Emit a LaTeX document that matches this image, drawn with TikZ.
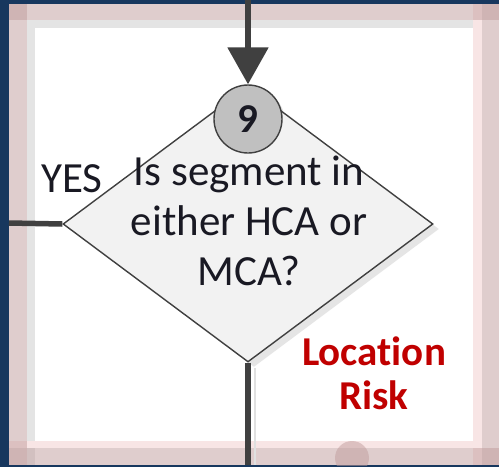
\documentclass[tikz,border=0pt]{standalone}
\usepackage{fontspec}
\setmainfont{Carlito}[Ligatures=NoCommon]
\usetikzlibrary{shapes.geometric,arrows.meta}
\definecolor{navy}{RGB}{23,55,94}
\definecolor{bandpink}{RGB}{193,157,157}
\definecolor{lightpink}{RGB}{248,229,229}
\definecolor{bandgray}{RGB}{228,228,228}
\definecolor{linegray}{RGB}{64,64,64}
\definecolor{riskred}{RGB}{192,0,0}
\definecolor{diafill}{RGB}{242,242,242}
\definecolor{circfill}{RGB}{192,192,192}
\definecolor{inktext}{RGB}{25,25,35}

\begin{document}
\begin{tikzpicture}[x=1pt,y=-1pt,
  band/.style={fill=bandpink,fill opacity=0.5},
  decision/.style={diamond,draw=linegray,line width=1.4pt,fill=diafill,
    minimum width=370pt,minimum height=276pt,inner sep=0pt},
  stepnum/.style={circle,draw=linegray,line width=1.4pt,fill=circfill,
    minimum size=68pt,inner sep=0pt,text=inktext,
    font=\fontsize{41}{48}\selectfont\bfseries},
  flow/.style={draw=linegray,line width=5.5pt},
  qtext/.style={align=center,text=inktext,inner sep=0pt,
    font=\fontsize{43}{50}\selectfont},
  risktext/.style={align=center,text=riskred,inner sep=0pt,
    font=\fontsize{41}{44}\selectfont\bfseries}
]
\useasboundingbox (0,0) rectangle (499,467);

% frame and page background
\fill[navy] (0,0) rectangle (499,467);
\fill[white] (9,4) rectangle (499,465);

% translucent margin bands
\fill[bandgray] (27,28) rectangle (35,465);
\fill[bandgray] (27,20) rectangle (473,28);
\fill[lightpink] (473,4) rectangle (482,465);
\fill[lightpink] (9,441) rectangle (482,448);
\fill[band] (9,4) rectangle (27,465);
\fill[band] (9,4) rectangle (499,20);
\fill[band] (482,4) rectangle (499,465);
\fill[band] (9,448) rectangle (499,465);
\begin{scope}
  \clip (9,440) rectangle (499,465);
  \fill[band] (352,458) circle (17);
\end{scope}

% connector ends
\coordinate (topend) at (248,0);
\coordinate (leftend) at (9,223);
\coordinate (bottomend) at (248,465);

% shadows
\node[decision,draw=none,fill=black!10] (dshadow) at (254,229) {};
\node[stepnum,draw=none,fill=black!12] (cshadow) at (251,122) {};
\draw[black!12,line width=1.5pt] (255,368) -- (255,465);

% decision diamond and step number
\node[decision] (d) at (248,224) {};
\node[stepnum] (n9) at (248,119) {9};

% connectors
\draw[flow,-{Triangle[width=40pt,length=37pt]}] (topend) -- (n9.north);
\draw[flow] (d.west) -- (leftend);
\draw[flow] (d.south) -- (bottomend);

% texts (base anchor = baseline of the last line)
\node[qtext,anchor=base] (q) at (249,285) {Is segment in\\either HCA or\\MCA?};
\node[qtext,anchor=base] (yes) at (72,192) {YES};
\node[risktext,anchor=base] (risk) at (374,409) {Location\\Risk};
\end{tikzpicture}
\end{document}
